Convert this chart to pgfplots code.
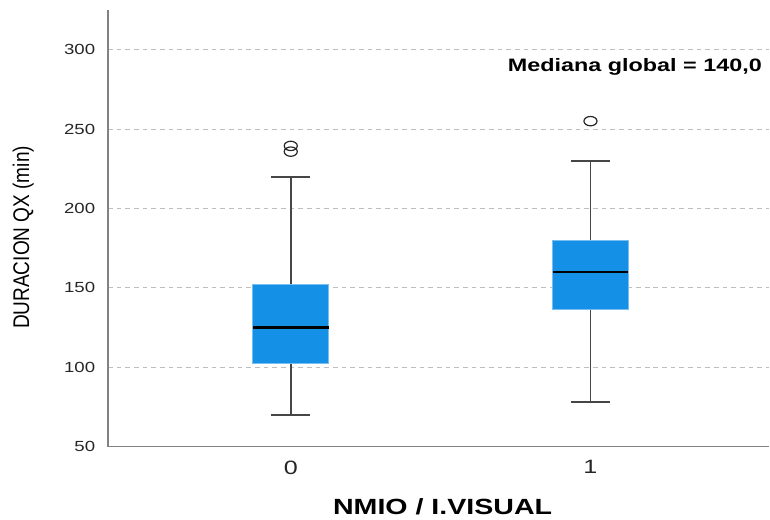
\documentclass[border=0pt]{standalone}
\usepackage{pgfplots}
\pgfplotsset{compat=1.18}
\usepackage{fontspec}
\setmainfont{Liberation Sans}
\definecolor{boxblue}{RGB}{20,144,230}
\definecolor{boxedge}{RGB}{120,190,240}
\definecolor{whisk}{RGB}{70,70,70}
\definecolor{gridc}{RGB}{190,190,190}
\definecolor{axc}{RGB}{130,130,130}
\begin{document}
\begin{tikzpicture}
\begin{axis}[
  scale only axis,
  width=496.5pt, height=327.75pt,
  xmin=-0.61, xmax=1.597,
  ymin=50, ymax=325,
  axis x line*=bottom, axis y line*=left,
  axis line style={-, draw=axc, line width=0.9pt},
  xtick={0,1}, xticklabels={0,1},
  ytick={50,100,150,200,250,300},
  tick style={draw=none},
  ymajorgrids,
  grid style={gridc, dash pattern=on 3.5pt off 3pt, line width=0.7pt},
  /pgf/number format/assume math mode=true,
  yticklabel style={font=\fontsize{11}{13}\selectfont, text=black!85, xscale=1.27, anchor=east, xshift=-4pt},
  xticklabel style={font=\fontsize{14.5}{16}\selectfont, text=black!85, xscale=1.3, yshift=-7pt},
  xlabel={\textbf{NMIO / I.VISUAL}},
  xlabel style={font=\fontsize{16.5}{18}\selectfont, xscale=1.3, at={(axis description cs:0.506,-0.137)}, anchor=center},
  ylabel={DURACION QX (min)},
  ylabel style={font=\fontsize{17}{19}\selectfont, xscale=0.84, at={(axis description cs:-0.128,0.479)}, anchor=center},
]
% whiskers (group 0)
\addplot[whisk, line width=1.2pt] coordinates {(0,152.3) (0,220)};
\addplot[whisk, line width=1.2pt] coordinates {(0,102.3) (0,70)};
\addplot[whisk, line width=1.2pt] coordinates {(-0.065,220) (0.065,220)};
\addplot[whisk, line width=1.2pt] coordinates {(-0.065,70) (0.065,70)};
% whiskers (group 1)
\addplot[whisk, line width=1.2pt] coordinates {(1,179.7) (1,230)};
\addplot[whisk, line width=1.2pt] coordinates {(1,136.3) (1,78)};
\addplot[whisk, line width=1.2pt] coordinates {(0.935,230) (1.065,230)};
\addplot[whisk, line width=1.2pt] coordinates {(0.935,78) (1.065,78)};
% boxes
\addplot[draw=boxedge, fill=boxblue, line width=0.6pt] coordinates {(-0.1265,102.3) (0.1265,102.3) (0.1265,152.3) (-0.1265,152.3) (-0.1265,102.3)};
\addplot[draw=boxedge, fill=boxblue, line width=0.6pt] coordinates {(0.8735,136.3) (1.1265,136.3) (1.1265,179.7) (0.8735,179.7) (0.8735,136.3)};
% medians
\addplot[black, line width=1.8pt] coordinates {(-0.1265,125) (0.1265,125)};
\addplot[black, line width=1.8pt] coordinates {(0.8735,160) (1.1265,160)};
% outliers
\addplot[only marks, mark=o, mark size=3.5pt, mark options={draw=black!85, line width=0.9pt, xscale=1.4}] coordinates {(0,235.8) (0,239.4) (1,255)};
\node[anchor=base east, inner sep=0pt, xscale=1.3, font=\fontsize{13.5}{15}\selectfont\bfseries] at (axis cs:1.573,286.1) {Mediana global = 140,0};
\end{axis}
\path (-81pt,-53.25pt) rectangle (496.5pt,335.25pt);
\end{tikzpicture}
\end{document}
